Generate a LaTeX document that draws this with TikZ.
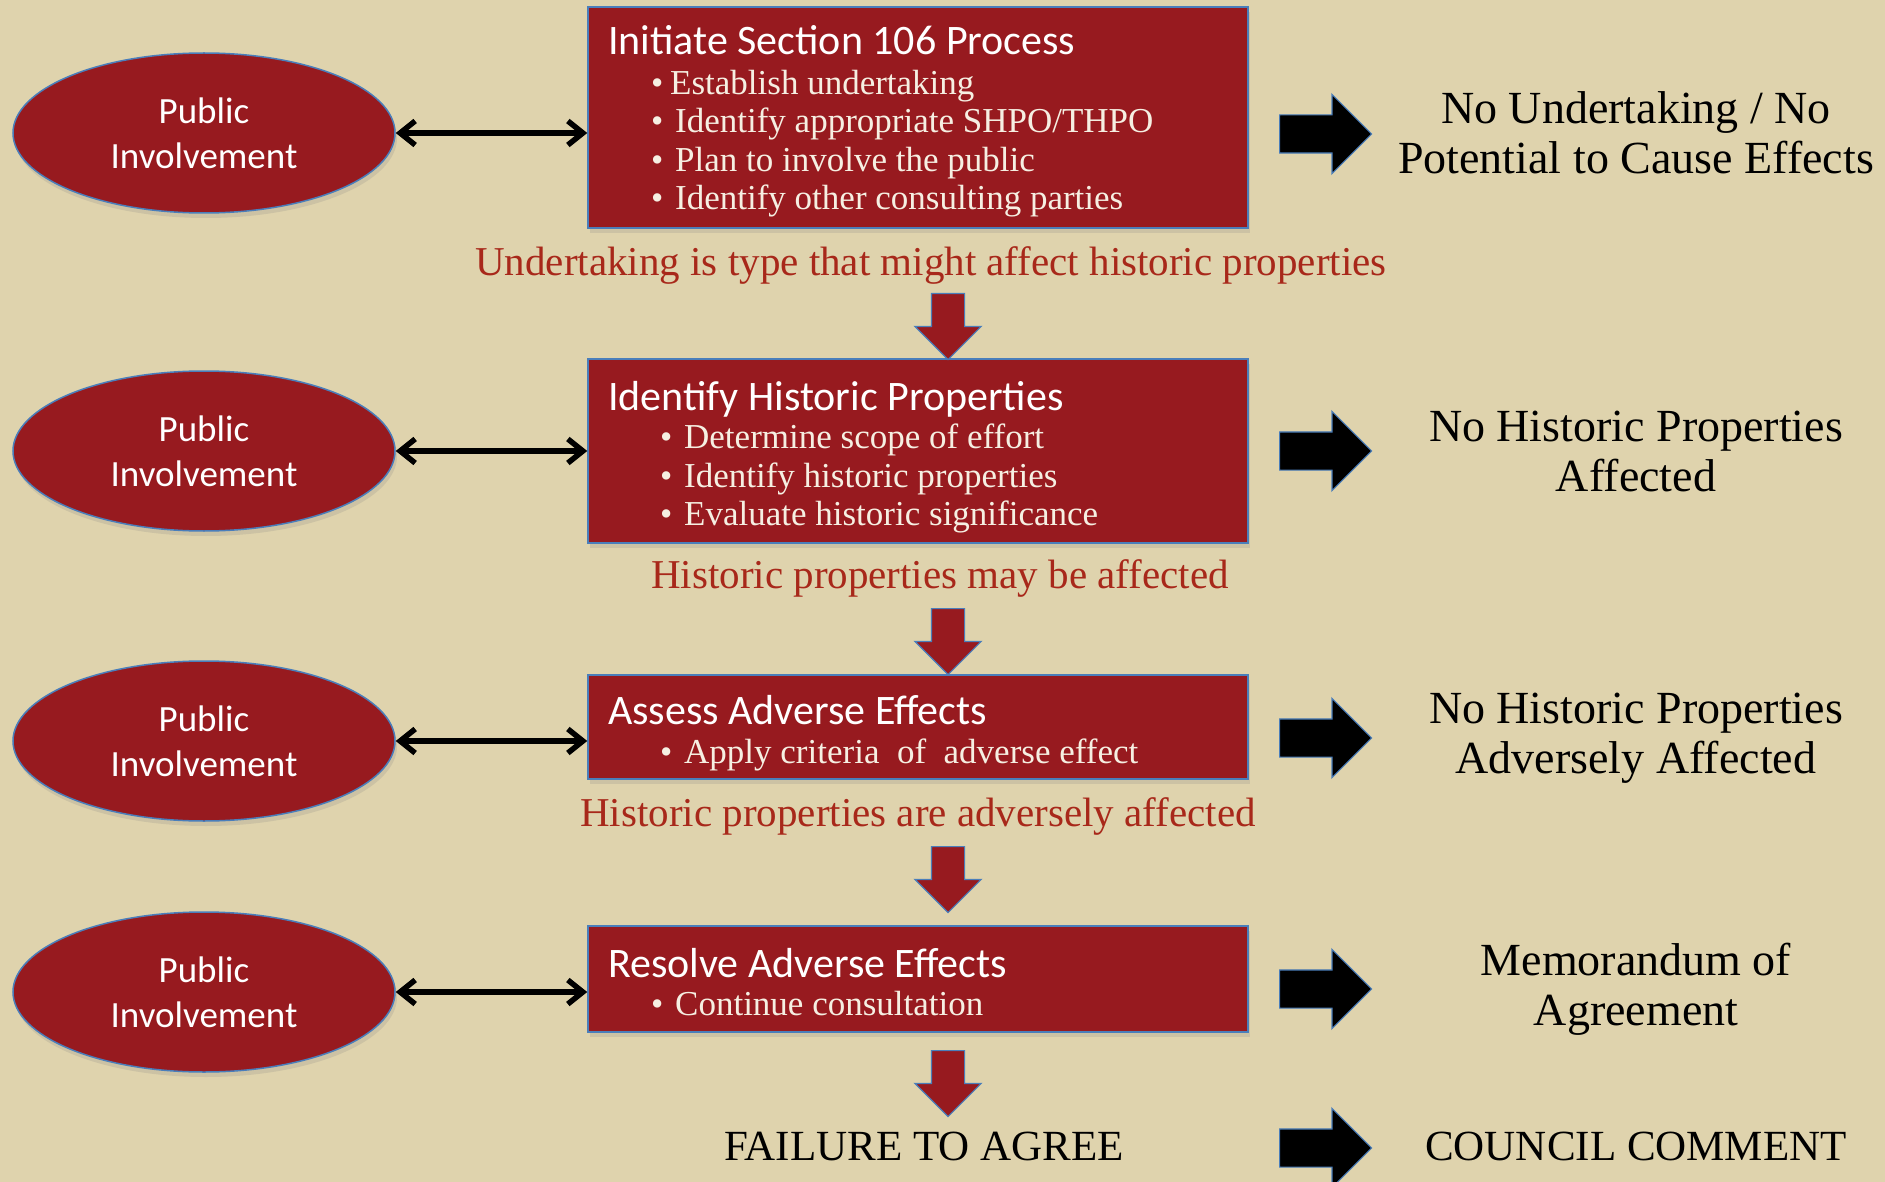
\documentclass[tikz,border=0pt]{standalone}
\usepackage{fontspec}
\setmainfont{Liberation Serif}
\newfontfamily\carlito{Carlito}
\usetikzlibrary{shapes.geometric,shapes.arrows,shadows,arrows.meta}

\definecolor{bgtan}{RGB}{223,211,173}
\definecolor{boxred}{RGB}{151,26,31}
\definecolor{edgeblue}{RGB}{74,126,187}
\definecolor{labelred}{RGB}{168,40,26}
\definecolor{cream}{RGB}{246,239,226}

\newcommand{\bul}[2][24pt]{\makebox[#1][l]{\textbullet}#2}

\begin{document}
\begin{tikzpicture}[x=1pt, y=-1pt, >={Straight Barb[length=15pt,width=24pt]},
    public/.style={ellipse, fill=boxred, draw=edgeblue, line width=1.5pt,
      minimum width=382pt, minimum height=160pt, inner sep=2pt, align=center,
      text=white, font=\carlito\fontsize{37}{45}\selectfont,
      drop shadow={opacity=0.2, shadow xshift=2pt, shadow yshift=-5pt}},
    stepbox/.style={rectangle, fill=boxred, draw=edgeblue, line width=1.5pt,
      minimum width=660pt, inner sep=0pt,
      drop shadow={opacity=0.2, shadow xshift=2pt, shadow yshift=-5pt}},
    steptitle/.style={anchor=base west, inner sep=0pt, text=white,
      font=\carlito\fontsize{42}{48}\selectfont},
    stepitem/.style={anchor=base west, inner sep=0pt, text=cream,
      font=\fontsize{35}{40}\selectfont},
    passlabel/.style={anchor=base, inner sep=0pt, text=labelred,
      font=\fontsize{41}{48}\selectfont},
    outcome/.style={align=center, inner sep=0pt, font=\fontsize{46}{50}\selectfont},
    endlabel/.style={anchor=base, inner sep=0pt, font=\fontsize{43}{48}\selectfont},
    twoway/.style={<->, line width=5.5pt},
    nextarrow/.style={single arrow, rotate=-90, anchor=tail, fill=boxred,
      draw=edgeblue, line width=1.2pt, minimum height=66pt, inner xsep=0pt,
      inner ysep=16pt, single arrow head extend=16.5pt},
    outarrow/.style={single arrow, anchor=tail, fill=black, draw=edgeblue,
      line width=1.2pt, minimum height=92pt, inner xsep=0pt, inner ysep=18.5pt,
      single arrow head extend=20.5pt}]

    \useasboundingbox[fill=bgtan] (0,0) rectangle (1885,1182);

    % public involvement, one per step
    \node[public] (pub1) at (204,133) {Public\\Involvement};
    \node[public] (pub2) at (204,451) {Public\\Involvement};
    \node[public] (pub3) at (204,741) {Public\\Involvement};
    \node[public] (pub4) at (204,992) {Public\\Involvement};

    % the four steps
    \node[stepbox, minimum height=221pt] (step1) at (918,117.5) {};
    \node[stepbox, minimum height=184pt] (step2) at (918,451) {};
    \node[stepbox, minimum height=104pt] (step3) at (918,727) {};
    \node[stepbox, minimum height=106pt] (step4) at (918,979) {};

    \node[steptitle] (title1) at (608,55) {Initiate Section 106 Process};
    \node[stepitem] (item11) at (651,95) {\bul[19pt]{Establish undertaking}};
    \node[stepitem] (item12) at (651,133) {\bul{Identify appropriate SHPO/THPO}};
    \node[stepitem] (item13) at (651,172) {\bul{Plan to involve the public}};
    \node[stepitem] (item14) at (651,210) {\bul{Identify other consulting parties}};

    \node[steptitle] (title2) at (608,410) {Identify Historic Properties};
    \node[stepitem] (item21) at (660,448) {\bul{Determine scope of effort}};
    \node[stepitem] (item22) at (660,487) {\bul{Identify historic properties}};
    \node[stepitem] (item23) at (660,525) {\bul{Evaluate historic significance}};

    \node[steptitle] (title3) at (608,724) {Assess Adverse Effects};
    \node[stepitem] (item31) at (660,763) {\bul{Apply criteria\ \ of\ \ adverse effect}};

    \node[steptitle] (title4) at (608,977) {Resolve Adverse Effects};
    \node[stepitem] (item41) at (651,1015) {\bul{Continue consultation}};

    % links to public involvement
    \draw[twoway] (pub1.east) -- (pub1.east -| step1.west);
    \draw[twoway] (pub2.east) -- (pub2.east -| step2.west);
    \draw[twoway] (pub3.east) -- (pub3.east -| step3.west);
    \draw[twoway] (pub4.east) -- (pub4.east -| step4.west);

    % conditions between steps
    \node[passlabel] (pass1) at (931,276) {Undertaking is type that might affect historic properties};
    \node[passlabel] (pass2) at (940,588) {Historic properties may be affected};
    \node[passlabel] (pass3) at (918,826) {Historic properties are adversely affected};
    \node[endlabel] (fail) at (924,1160) {FAILURE TO AGREE};

    \node[nextarrow] (next1) at (948,293) {};
    \node[nextarrow] (next2) at (948,608) {};
    \node[nextarrow] (next3) at (948,846) {};
    \node[nextarrow] (next4) at (948,1050) {};

    % outcomes
    \node[outarrow] (out1) at (1279,134) {};
    \node[outarrow] (out2) at (1279,451) {};
    \node[outarrow] (out3) at (1279,738) {};
    \node[outarrow] (out4) at (1279,989) {};
    \node[outarrow] (out5) at (1279,1148) {};

    \node[outcome] (res1) at (1636,133) {No Undertaking / No\\Potential to Cause Effects};
    \node[outcome] (res2) at (1636,451) {No Historic Properties\\Affected};
    \node[outcome] (res3) at (1636,738) {No Historic Properties\\Adversely Affected};
    \node[outcome] (res4) at (1636,989) {Memorandum of\\Agreement};
    \node[endlabel] (res5) at (1636,1160) {COUNCIL COMMENT};
\end{tikzpicture}
\end{document}
